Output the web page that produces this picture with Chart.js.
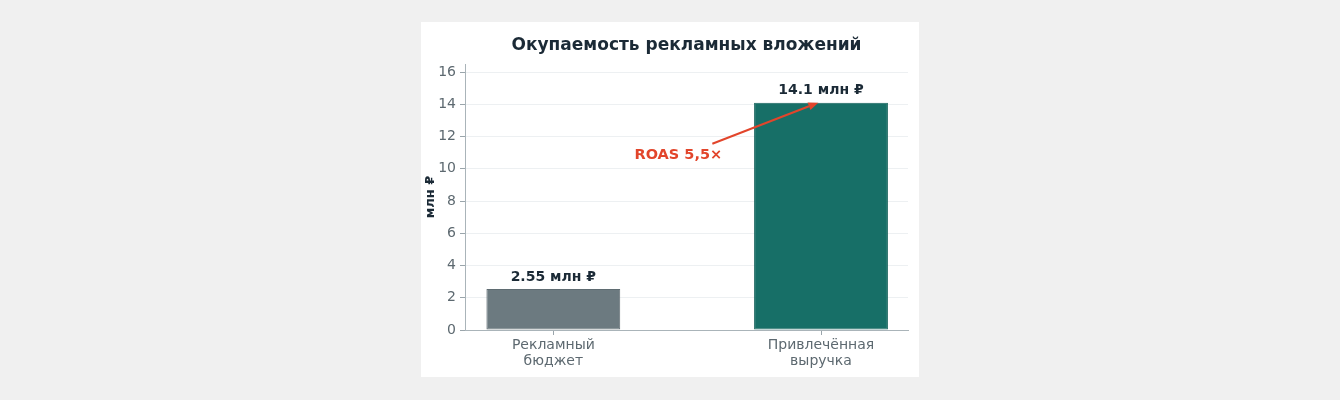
<!DOCTYPE html>
<html>
<head>
    <title>Окупаемость рекламных вложений</title>
    <script src="https://cdn.jsdelivr.net/npm/chart.js"></script>
    <style>
        html, body { margin: 0; padding: 0; background: #f0f0f0; }
        #card { position: absolute; left: 421px; top: 22px; width: 498px; height: 355px; background: #ffffff; }
    </style>
</head>
<body>
    <div id="card"><canvas id="roasChart" width="498" height="355"></canvas></div>
    <script>
    // chart data
    const chartTitle = 'Окупаемость рекламных вложений';
    const categories = [['Рекламный', 'бюджет'], ['Привлечённая', 'выручка']];
    const positions = [0, 1];
    const values = [2.55, 14.1];
    const valueLabels = ['2.55 млн ₽', '14.1 млн ₽'];
    const barColors = ['#6c7a80', '#176f67'];
    const yTicks = [0, 2, 4, 6, 8, 10, 12, 14, 16];
    const roasText = 'ROAS 5,5×';
    const roasTextPos = { x: 0.467, y: 10.85 };
    const roasArrowFrom = { x: 0.594, y: 11.55 };
    const roasArrowTo = { x: 0.99, y: 14.1 };

    const FONT = "'DejaVu Sans', sans-serif";

    const labelsPlugin = {
        id: 'labelsPlugin',
        afterDatasetsDraw(chart) {
            const ctx = chart.ctx;
            const xs = chart.scales.x, ys = chart.scales.y;
            const area = chart.chartArea;
            ctx.save();
            // title, centred over the plot area
            ctx.font = 'bold 17px ' + FONT;
            ctx.fillStyle = '#1b2a36';
            ctx.textAlign = 'center';
            ctx.textBaseline = 'middle';
            ctx.fillText(chartTitle, (area.left + area.right) / 2, 23.5);
            // value labels above bars
            ctx.font = 'bold 14px ' + FONT;
            ctx.textBaseline = 'bottom';
            values.forEach((v, i) => {
                ctx.fillText(valueLabels[i], xs.getPixelForValue(positions[i]), ys.getPixelForValue(v) - 5);
            });
            // ROAS arrow
            const x1 = xs.getPixelForValue(roasArrowFrom.x), y1 = ys.getPixelForValue(roasArrowFrom.y);
            const x2 = xs.getPixelForValue(roasArrowTo.x), y2 = ys.getPixelForValue(roasArrowTo.y);
            const ang = Math.atan2(y2 - y1, x2 - x1);
            const head = 10, hw = 4;
            ctx.strokeStyle = '#e2452b';
            ctx.fillStyle = '#e2452b';
            ctx.lineWidth = 2;
            ctx.beginPath();
            ctx.moveTo(x1, y1);
            ctx.lineTo(x2 - head * Math.cos(ang), y2 - head * Math.sin(ang));
            ctx.stroke();
            ctx.beginPath();
            ctx.moveTo(x2, y2);
            ctx.lineTo(x2 - head * Math.cos(ang) + hw * Math.sin(ang), y2 - head * Math.sin(ang) - hw * Math.cos(ang));
            ctx.lineTo(x2 - head * Math.cos(ang) - hw * Math.sin(ang), y2 - head * Math.sin(ang) + hw * Math.cos(ang));
            ctx.closePath();
            ctx.fill();
            // ROAS text
            ctx.font = 'bold 14.5px ' + FONT;
            ctx.textBaseline = 'middle';
            ctx.fillText(roasText, xs.getPixelForValue(roasTextPos.x), ys.getPixelForValue(roasTextPos.y));
            ctx.restore();
        }
    };

    const ctx = document.getElementById('roasChart').getContext('2d');
    const chart = new Chart(ctx, {
        type: 'bar',
        data: {
            datasets: [{
                data: positions.map((p, i) => ({ x: p, y: values[i] })),
                backgroundColor: barColors,
                borderColor: ['#5f6c72', '#14625b'],
                borderWidth: 1,
                borderSkipped: false,
                categoryPercentage: 1,
                barPercentage: 0.5
            }]
        },
        options: {
            responsive: false,
            animation: false,
            layout: { padding: { left: 0, right: 11, top: 42, bottom: 0 } },
            scales: {
                x: {
                    type: 'linear',
                    offset: false,
                    min: -0.33,
                    max: 1.325,
                    afterBuildTicks: scale => { scale.ticks = positions.map(v => ({ value: v })); },
                    afterFit: scale => { scale.height = 47; },
                    grid: { offset: false, drawOnChartArea: false, drawTicks: true, tickLength: 5, tickColor: '#9aa5ab' },
                    border: { color: '#aab4b9', width: 1 },
                    ticks: {
                        autoSkip: false,
                        maxRotation: 0,
                        padding: 2,
                        color: '#5d6970',
                        font: { family: FONT, size: 14, lineHeight: 1.15 },
                        callback: value => categories[positions.indexOf(value)]
                    }
                },
                y: {
                    min: 0,
                    max: 16.5,
                    afterBuildTicks: scale => { scale.ticks = yTicks.map(v => ({ value: v })); },
                    afterFit: scale => { scale.width = 44; },
                    grid: { color: '#edf0f2', drawTicks: true, tickLength: 5, tickColor: '#9aa5ab' },
                    border: { color: '#aab4b9', width: 1 },
                    ticks: {
                        padding: 4,
                        color: '#5d6970',
                        font: { family: FONT, size: 14 }
                    },
                    title: {
                        display: true,
                        text: 'млн ₽',
                        color: '#1b2a36',
                        padding: { top: 2, bottom: 2 },
                        font: { family: FONT, size: 13, weight: 'bold' }
                    }
                }
            },
            plugins: {
                legend: { display: false },
                tooltip: { enabled: false },
                title: { display: false }
            }
        },
        plugins: [labelsPlugin]
    });
    </script>
</body>
</html>
